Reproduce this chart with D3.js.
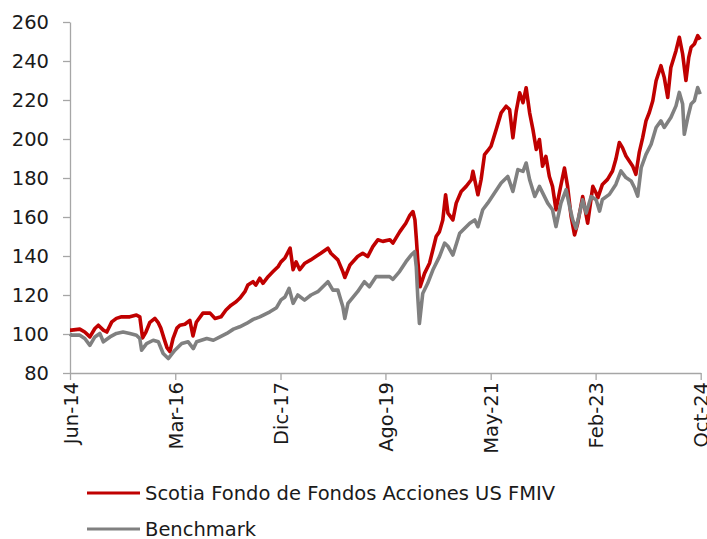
<!DOCTYPE html>
<html><head><meta charset="utf-8">
<script src="https://cdn.jsdelivr.net/npm/d3@7"></script>
<style>
body{margin:0;background:#fff}
svg{display:block}
text{font-family:"DejaVu Sans",sans-serif;fill:#1a1a1a}
</style>
</head><body>
<svg id="chart" width="707" height="539"></svg>
<script>
const seriesNames = ["Scotia Fondo de Fondos Acciones US FMIV", "Benchmark"];
const seriesColors = ["#c00000", "#808080"];

const fundDates = ["2014-06-01","2014-06-11","2014-07-30","2014-08-29","2014-09-29","2014-10-29","2014-11-19","2014-12-19","2015-01-09","2015-02-08","2015-03-08","2015-04-08","2015-05-28","2015-07-07","2015-07-27","2015-08-13","2015-09-02","2015-09-26","2015-10-26","2015-11-14","2015-12-01","2015-12-19","2016-01-07","2016-01-25","2016-02-13","2016-03-07","2016-03-25","2016-04-24","2016-05-24","2016-06-12","2016-07-02","2016-08-11","2016-09-23","2016-10-23","2016-11-28","2016-12-28","2017-01-28","2017-02-27","2017-03-21","2017-04-21","2017-05-09","2017-06-09","2017-06-26","2017-07-20","2017-08-08","2017-09-08","2017-10-08","2017-11-07","2017-11-25","2017-12-19","2018-01-19","2018-02-06","2018-02-24","2018-03-18","2018-04-18","2018-05-23","2018-06-23","2018-07-23","2018-09-04","2018-09-22","2018-11-03","2018-12-03","2018-12-15","2019-01-15","2019-03-02","2019-04-02","2019-05-02","2019-06-02","2019-07-02","2019-08-01","2019-09-13","2019-10-01","2019-11-12","2019-12-18","2020-01-12","2020-01-30","2020-02-11","2020-02-20","2020-02-28","2020-03-13","2020-04-09","2020-05-09","2020-05-29","2020-06-18","2020-07-08","2020-07-28","2020-08-14","2020-08-28","2020-09-27","2020-10-17","2020-11-16","2020-12-16","2021-01-16","2021-01-26","2021-02-25","2021-03-16","2021-04-06","2021-04-25","2021-05-15","2021-06-15","2021-07-15","2021-08-14","2021-09-04","2021-09-24","2021-10-14","2021-11-04","2021-11-24","2021-12-13","2022-01-03","2022-01-23","2022-02-12","2022-03-03","2022-03-22","2022-04-11","2022-05-02","2022-05-21","2022-06-11","2022-07-01","2022-08-01","2022-08-20","2022-09-10","2022-10-01","2022-10-20","2022-11-19","2022-12-19","2023-01-19","2023-02-08","2023-02-19","2023-03-18","2023-04-18","2023-05-18","2023-06-07","2023-06-28","2023-07-17","2023-08-07","2023-09-16","2023-10-06","2023-10-26","2023-11-16","2023-12-06","2023-12-26","2024-01-16","2024-02-05","2024-03-05","2024-03-25","2024-04-15","2024-05-04","2024-06-04","2024-06-24","2024-07-14","2024-08-03","2024-08-20","2024-09-03","2024-09-23","2024-10-13","2024-10-28"];
const fundValues = [102,102,102.5,101,98.5,102.8,104.5,102,101,106.2,108,108.8,108.8,109.7,108.8,98,101,106,108,106,103,98,93,91,97.8,103,104.5,105,107,99,106,110.7,110.7,108,108.8,112.3,114.8,116.5,118.3,121.7,125.1,126.8,125.1,128.6,126,129.4,132,134.5,137,139,144,133,137,133,136.3,138,139.7,141.4,144,141.4,138,132,129,135.4,139.7,141.4,139.7,144.8,148.3,147.5,148.3,146.6,152.5,156.8,161,162.8,158.5,148.3,138,124.2,131.1,136.3,143.1,150,152.5,158.5,171.4,162,158.5,167.1,173.1,175.7,179.1,183.4,171.4,179.1,192,194,196.3,204.8,213.4,216.8,215.1,200.6,214.3,223.7,218.6,226.3,213.4,204.8,194.6,199.7,186,191.1,180.8,175.7,163.7,172.3,185.1,175.7,160.3,150.8,156.8,170.5,156.8,175.7,172.3,169.9,176.7,179.3,183.6,189.6,198.2,195.6,191.3,186.2,181.9,193,200.7,209.3,213.6,219.6,229.9,237.6,231.6,221.3,236.7,245.3,252.2,243.6,230,241.9,247,248.7,253,251];

const benchDates = ["2014-06-01","2014-06-11","2014-07-30","2014-08-29","2014-09-29","2014-10-29","2014-11-28","2014-12-19","2015-01-28","2015-03-08","2015-04-17","2015-05-28","2015-07-07","2015-07-27","2015-08-07","2015-09-06","2015-10-16","2015-11-16","2015-12-15","2016-01-15","2016-02-24","2016-04-05","2016-05-14","2016-06-14","2016-07-04","2016-09-03","2016-10-13","2016-11-22","2017-01-02","2017-02-11","2017-03-21","2017-05-01","2017-06-10","2017-07-20","2017-09-19","2017-10-29","2017-11-25","2017-12-19","2018-01-13","2018-02-06","2018-03-06","2018-04-16","2018-05-25","2018-07-05","2018-09-04","2018-10-04","2018-11-03","2018-12-03","2018-12-15","2019-01-03","2019-03-02","2019-04-12","2019-05-12","2019-06-21","2019-08-01","2019-09-11","2019-10-01","2019-11-10","2019-12-19","2020-01-19","2020-02-09","2020-02-19","2020-02-28","2020-03-09","2020-03-29","2020-04-28","2020-05-29","2020-07-08","2020-08-08","2020-08-28","2020-09-27","2020-11-07","2021-01-07","2021-02-06","2021-02-25","2021-03-26","2021-04-25","2021-06-05","2021-07-15","2021-08-24","2021-09-24","2021-10-24","2021-11-24","2021-12-13","2022-01-03","2022-02-03","2022-03-03","2022-04-22","2022-05-21","2022-06-11","2022-07-11","2022-08-11","2022-09-01","2022-09-20","2022-10-10","2022-10-31","2022-11-19","2022-12-10","2023-01-09","2023-02-08","2023-03-01","2023-03-18","2023-04-29","2023-06-07","2023-07-08","2023-08-07","2023-09-07","2023-09-28","2023-10-17","2023-11-07","2023-12-06","2024-01-06","2024-02-05","2024-03-05","2024-03-25","2024-05-04","2024-06-04","2024-06-24","2024-07-14","2024-07-24","2024-08-14","2024-09-03","2024-09-23","2024-10-13","2024-10-28"];
const benchValues = [100,99.4,99.4,97.7,94.2,98.5,100.3,96,98.5,100.3,101,100.3,99.4,97.7,91.7,95.1,96.8,96,90,87.4,91.7,95.1,96,92.5,96,97.7,96.8,98.5,100.3,102.5,103.7,105.4,107.5,108.8,111.4,113.5,117.5,119,123.4,115.7,120,117.4,120,121.7,126.8,122.5,122.5,114,108,115.7,121.7,126.8,124.2,129.4,129.5,129.4,128,132,137.1,140.5,142.2,134.5,119.1,105.4,120.8,126,132.8,139.7,146.6,145,140.5,151.7,156.8,158.5,155,163.7,167.1,172.3,177.4,180.8,173.1,184.3,183.4,187.7,179.1,170.5,175.7,167.1,163.7,155.1,167.1,174,165.4,158.5,154.2,162,168.8,162,170.5,168.8,163,169,171.6,176.7,183.6,180.2,178.5,175,170.7,185.3,192.1,197.3,205.9,209.3,205.9,211,217,223.9,217.9,202.4,211,217.9,219.6,226.4,223];

const yTickValues = [80,100,120,140,160,180,200,220,240,260];
const xTickDates = ["2014-06-01","2016-02-26","2017-11-22","2019-08-17","2021-05-13","2023-02-05","2024-10-31"];
const xTickLabels = ["Jun-14","Mar-16","Dic-17","Ago-19","May-21","Feb-23","Oct-24"];
const xDomain = ["2014-06-01","2024-10-31"];
const yDomain = [80,260];

const parse = d3.timeParse("%Y-%m-%d");
const svg = d3.select("#chart");
const FS = "19.5px";
const axisColor = "#a6a6a6";

const x = d3.scaleTime().domain(xDomain.map(parse)).range([70, 700.7]);
const y = d3.scaleLinear().domain(yDomain).range([373, 22]);

// Y axis
const gy = svg.append("g").attr("transform","translate(70,0)")
  .call(d3.axisLeft(y).tickValues(yTickValues).tickSize(7).tickPadding(14).tickSizeOuter(0));
gy.selectAll("path,line").attr("stroke", axisColor).attr("stroke-width",1.3);
gy.selectAll("text").style("font-size",FS).attr("fill","#1a1a1a").attr("font-family","DejaVu Sans");

// X axis
const gx = svg.append("g").attr("transform","translate(0,373)")
  .call(d3.axisBottom(x).tickValues(xTickDates.map(parse)).tickFormat((d,i)=>xTickLabels[i]).tickSize(7).tickSizeOuter(0));
gx.selectAll("path,line").attr("stroke", axisColor).attr("stroke-width",1.3);
gx.selectAll("text")
  .attr("x",-9).attr("y",0).attr("dy","0.36em")
  .attr("transform","rotate(-90)")
  .style("text-anchor","end").style("font-size",FS).attr("fill","#1a1a1a").attr("font-family","DejaVu Sans");

const line = d3.line().x(d=>x(d.date)).y(d=>y(d.value)).curve(d3.curveLinear);
const fund = fundDates.map((d,i)=>({date:parse(d), value:fundValues[i]}));
const bench = benchDates.map((d,i)=>({date:parse(d), value:benchValues[i]}));

[fund, bench].forEach((data,i)=>{
  svg.append("path").datum(data)
    .attr("fill","none").attr("stroke",seriesColors[i])
    .attr("stroke-width",3.6).attr("stroke-linejoin","round")
    .attr("d",line);
});

// Legend
const legend = svg.append("g").attr("transform","translate(87,493)");
seriesNames.forEach((name,i)=>{
  const g = legend.append("g").attr("transform",`translate(0,${i*36})`);
  g.append("line").attr("x1",0).attr("x2",53).attr("y1",0).attr("y2",0)
    .attr("stroke",seriesColors[i]).attr("stroke-width",3);
  g.append("text").attr("x",58).attr("y",0).attr("dy","0.36em")
    .style("font-size",FS).text(name);
});
</script>
</body></html>
